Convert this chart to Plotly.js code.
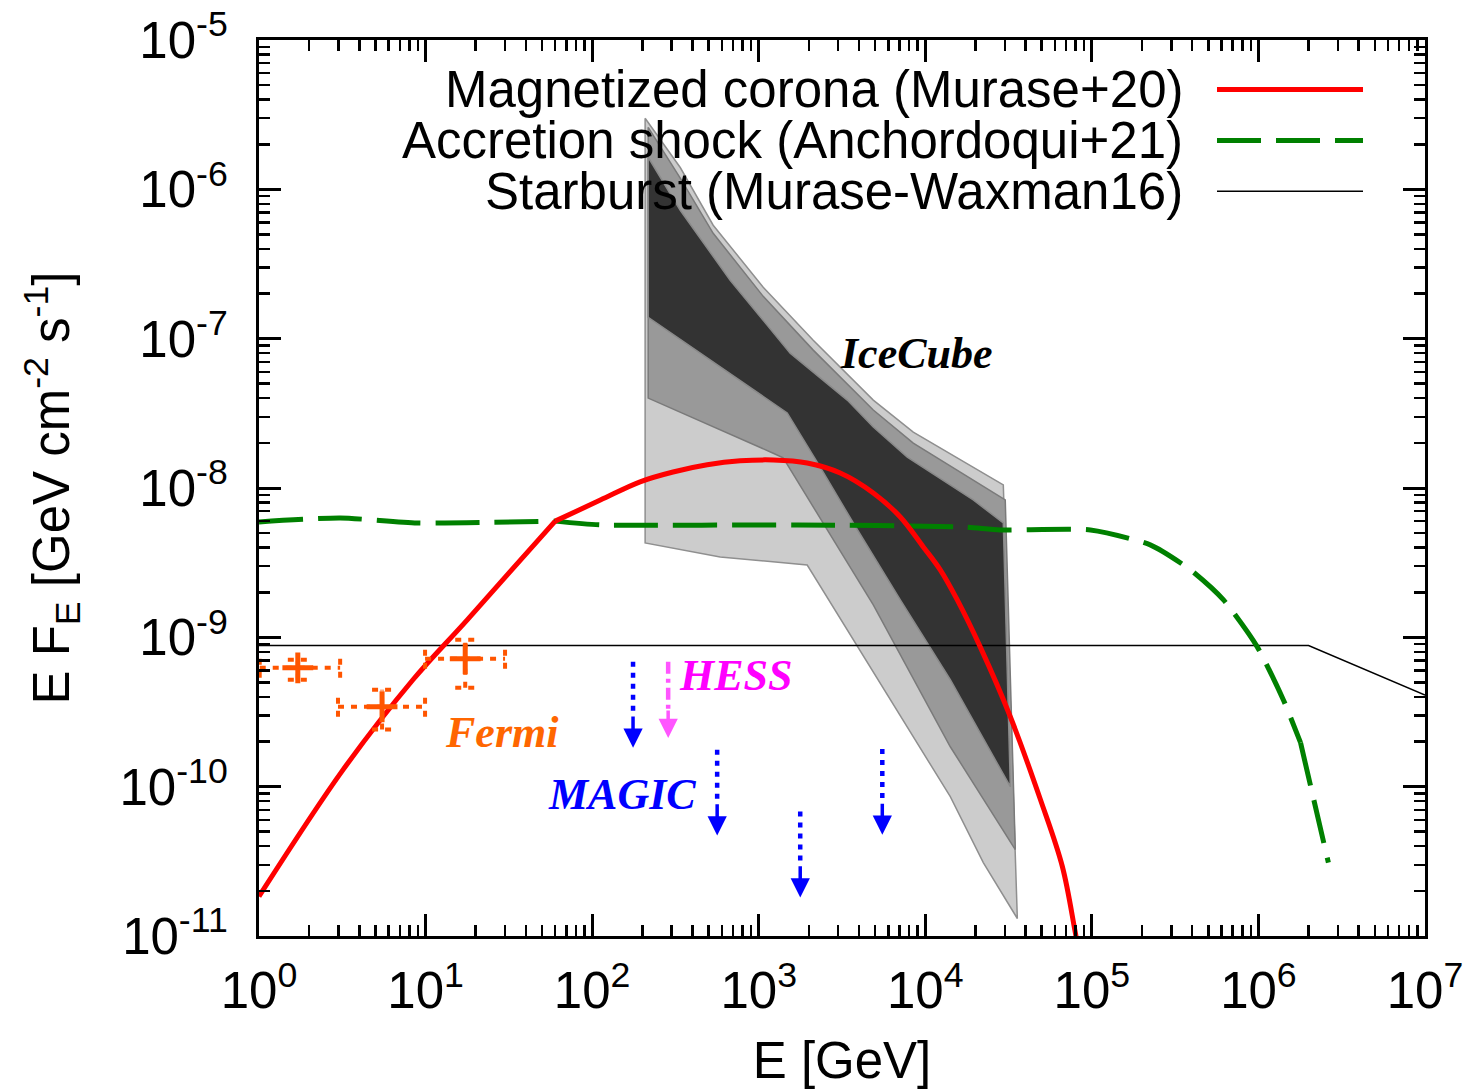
<!DOCTYPE html>
<html>
<head>
<meta charset="utf-8">
<script src="https://cdn.plot.ly/plotly-3.0.1.min.js"></script>
<style>
html,body{margin:0;padding:0;background:#fff;}
#chart{width:1466px;height:1089px;}
</style>
</head>
<body>
<div id="chart"></div>
<script>
// ---------------- data ----------------
// Magnetized corona (Murase+20)
const E_corona = [1, 3.2, 8.4, 17.8, 60, 112, 194, 306, 491, 774, 1222, 1955, 3085, 4873, 7080, 9730, 12300, 15560, 21400, 32400, 49100, 66500, 79600, 85300];
const F_corona = [1.84e-11, 1.30e-10, 5.2e-10, 1.31e-9, 6.0e-9, 8.3e-9, 1.10e-8, 1.28e-8, 1.43e-8, 1.52e-8, 1.54e-8, 1.47e-8, 1.26e-8, 9.27e-9, 6.4e-9, 4.03e-9, 2.83e-9, 1.78e-9, 8.6e-10, 2.94e-10, 8.2e-11, 2.92e-11, 1.05e-11, 6.97e-12];

// Accretion shock (Anchordoqui+21)
const E_shock = [1, 3.07, 8.9, 60, 112, 1700, 16900, 28200, 98000, 224000, 391000, 617000, 986000, 1.41e6, 1.79e6, 2.63e6];
const F_shock = [5.93e-9, 6.3e-9, 5.83e-9, 6.0e-9, 5.66e-9, 5.66e-9, 5.48e-9, 5.24e-9, 5.24e-9, 4.16e-9, 2.83e-9, 1.78e-9, 8.6e-10, 3.82e-10, 1.97e-10, 3.1e-11];

// Starburst (Murase-Waxman16)
const E_starburst = [1, 2e6, 1e7];
const F_starburst = [8.8e-10, 8.8e-10, 4.1e-10];

// IceCube bands (upper / lower edges)
const E_light_hi = [208, 338, 533, 1064, 2125, 4873, 8470, 15560, 29400];
const F_light_hi = [2.99e-6, 1.40e-6, 5.75e-7, 2.21e-7, 9.77e-8, 3.88e-8, 2.37e-8, 1.59e-8, 1.05e-8];
const E_light_lo = [208, 587, 1955, 7080, 14130, 22300, 35700];
const F_light_lo = [4.29e-9, 3.45e-9, 3.05e-9, 2.99e-10, 8.57e-11, 3.10e-11, 1.31e-11];

const E_med_hi = [217, 338, 533, 1064, 2125, 4873, 8470, 15560, 30200];
const F_med_hi = [2.60e-6, 1.19e-6, 5.08e-7, 1.92e-7, 8.38e-8, 3.33e-8, 2.0e-8, 1.32e-8, 8.32e-9];
const E_med_lo = [217, 1222, 1403, 4873, 14130, 34700];
const F_med_lo = [4.0e-8, 1.71e-8, 1.59e-8, 1.65e-9, 1.85e-10, 3.79e-11];

const E_dark_hi = [217, 338, 674, 1545, 3400, 4873, 7800, 19410, 29400];
const F_dark_hi = [1.64e-6, 7.24e-7, 2.46e-7, 8.0e-8, 3.88e-8, 2.56e-8, 1.61e-8, 8.32e-9, 5.83e-9];
const E_dark_lo = [217, 1483, 2340, 3697, 7080, 14130, 32400];
const F_dark_lo = [1.39e-7, 3.18e-8, 1.38e-8, 5.83e-9, 1.78e-9, 5.2e-10, 1.0e-10];

// Fermi points with error ranges
const E_fermi = [1.71, 5.48, 17.3];
const E_fermi_lo = [1.01, 2.98, 9.93];
const E_fermi_hi = [3.07, 9.93, 30.0];
const F_fermi = [6.25e-10, 3.43e-10, 7.18e-10];
const F_fermi_lo = [5.2e-10, 2.41e-10, 4.59e-10];
const F_fermi_hi = [7.07e-10, 4.46e-10, 9.62e-10];

// Upper limits
const E_magic = [176, 563, 1775, 5520];
const F_magic = [6.85e-10, 1.77e-10, 6.81e-11, 1.79e-10];
const E_hess = [286];
const F_hess = [6.85e-10];

// tick labels
const xTickVals = [1, 10, 100, 1e3, 1e4, 1e5, 1e6, 1e7];
const xTickText = ['10<sup>0</sup>', '10<sup>1</sup>', '10<sup>2</sup>', '10<sup>3</sup>', '10<sup>4</sup>', '10<sup>5</sup>', '10<sup>6</sup>', '10<sup>7</sup>'];
const yTickVals = [1e-11, 1e-10, 1e-9, 1e-8, 1e-7, 1e-6, 1e-5];
const yTickText = ['10<sup>-11</sup>', '10<sup>-10</sup>', '10<sup>-9</sup>', '10<sup>-8</sup>', '10<sup>-7</sup>', '10<sup>-6</sup>', '10<sup>-5</sup>'];

const legendNames = ['Magnetized corona (Murase+20)', 'Accretion shock (Anchordoqui+21)', 'Starburst (Murase-Waxman16)'];

// ---------------- build ----------------
function minorTicks(lo, hi) {
  const v = [];
  for (let p = lo; p < hi; p++) for (let d = 2; d <= 9; d++) v.push(d * Math.pow(10, p));
  return v;
}
function band(Ehi, Fhi, Elo, Flo) {
  return {
    x: Ehi.concat(Elo.slice().reverse()).concat([Ehi[0]]),
    y: Fhi.concat(Flo.slice().reverse()).concat([Fhi[0]])
  };
}
const traces = [];
const bands = [
  [band(E_light_hi, F_light_hi, E_light_lo, F_light_lo), '#cccccc', '#8f8f8f'],
  [band(E_med_hi, F_med_hi, E_med_lo, F_med_lo), '#999999', '#7a7a7a'],
  [band(E_dark_hi, F_dark_hi, E_dark_lo, F_dark_lo), '#333333', '#8a8a8a']
];
bands.forEach(b => traces.push({
  x: b[0].x, y: b[0].y, type: 'scatter', mode: 'lines', fill: 'toself',
  fillcolor: b[1], line: {color: b[2], width: 1.5}, showlegend: false, hoverinfo: 'skip'
}));

// split a series into pieces at given indices (kinks stay sharp, pieces are smoothed)
function pieces(E, F, cuts) {
  const out = [];
  const idx = [0].concat(cuts).concat([E.length - 1]);
  for (let k = 0; k < idx.length - 1; k++) {
    out.push({x: E.slice(idx[k], idx[k + 1] + 1), y: F.slice(idx[k], idx[k + 1] + 1)});
  }
  return out;
}

// model curves
traces.push({x: E_starburst, y: F_starburst, type: 'scatter', mode: 'lines', name: legendNames[2],
  line: {color: '#000000', width: 1.5}, showlegend: false});
pieces(E_shock, F_shock, [3, 14]).forEach(p => traces.push({x: p.x, y: p.y, type: 'scatter', mode: 'lines',
  name: legendNames[1], line: {color: '#008000', width: 5, dash: '44px,15px', shape: 'spline', smoothing: 0.6},
  showlegend: false}));
pieces(E_corona, F_corona, [4]).forEach(p => traces.push({x: p.x, y: p.y, type: 'scatter', mode: 'lines',
  name: legendNames[0], line: {color: '#ff0000', width: 5, shape: 'spline', smoothing: 1.0},
  showlegend: false}));

// Fermi error bars (dotted) + caps
const capX = Math.pow(10, 0.06), capY = Math.pow(10, 0.067);
const fx = [], fy = [];
for (let i = 0; i < E_fermi.length; i++) {
  fx.push(E_fermi_lo[i], E_fermi_hi[i], null); fy.push(F_fermi[i], F_fermi[i], null);
  fx.push(E_fermi[i], E_fermi[i], null); fy.push(F_fermi_lo[i], F_fermi_hi[i], null);
  fx.push(E_fermi_lo[i], E_fermi_lo[i], null); fy.push(F_fermi[i] / capY, F_fermi[i] * capY, null);
  fx.push(E_fermi_hi[i], E_fermi_hi[i], null); fy.push(F_fermi[i] / capY, F_fermi[i] * capY, null);
  fx.push(E_fermi[i] / capX, E_fermi[i] * capX, null); fy.push(F_fermi_lo[i], F_fermi_lo[i], null);
  fx.push(E_fermi[i] / capX, E_fermi[i] * capX, null); fy.push(F_fermi_hi[i], F_fermi_hi[i], null);
}
traces.push({x: fx, y: fy, type: 'scatter', mode: 'lines', connectgaps: false,
  line: {color: '#ff5500', width: 4, dash: '6px,7px'}, showlegend: false, hoverinfo: 'skip'});
traces.push({x: E_fermi, y: F_fermi, type: 'scatter', mode: 'markers',
  marker: {symbol: 'cross-thin', size: 22, line: {color: '#ff5500', width: 5}}, showlegend: false});

// upper limits (dotted shafts + narrow arrow heads)
const ulHeads = [];
function ulTraces(E, F, color, dash, len) {
  const sx = [], sy = [];
  for (let i = 0; i < E.length; i++) {
    sx.push(E[i], E[i], null); sy.push(F[i], F[i] / Math.pow(10, len * 0.62), null);
    ulHeads.push({x: Math.log10(E[i]), y: Math.log10(F[i]) - len, ax: Math.log10(E[i]), ay: Math.log10(F[i]) - len * 0.62, color: color});
  }
  traces.push({x: sx, y: sy, type: 'scatter', mode: 'lines', line: {color: color, width: 4.5, dash: dash},
    showlegend: false, hoverinfo: 'skip'});
}
ulTraces(E_magic, F_magic, '#0000ff', '5px,6px', 0.575);
ulTraces(E_hess, F_hess, '#ff55ff', '12px,5px,4px,5px', 0.51);

// ---------------- layout ----------------
const L = 259, T = 39.5, W = 1166, H = 897;
const px = x => (x - L) / W;
const py = y => (T + H - y) / H;
const sans = 'Liberation Sans, Arial, Helvetica, sans-serif';
const serif = 'Liberation Serif, Times New Roman, serif';
const FS = 51;

const legendRows = [89, 140, 191];
const legendStyles = [
  {color: '#ff0000', width: 5},
  {color: '#008000', width: 5, dash: '44px,15px'},
  {color: '#000000', width: 1.5}
];
const shapes = legendRows.map((r, i) => ({
  type: 'line', xref: 'paper', yref: 'paper', x0: px(1217), x1: px(1363), y0: py(r), y1: py(r),
  line: legendStyles[i]
}));
const annotations = legendRows.map((r, i) => ({
  xref: 'paper', yref: 'paper', x: px(1185), y: py(r), xanchor: 'right', yanchor: 'middle',
  text: legendNames[i], showarrow: false, font: {family: sans, size: FS, color: '#000'}
}));
function label(text, cx, cy, color) {
  annotations.push({xref: 'paper', yref: 'paper', x: px(cx), y: py(cy), xanchor: 'center', yanchor: 'middle',
    text: text, showarrow: false,
    font: {family: serif, size: 44, color: color, weight: 'bold', style: 'italic'}});
}
label('IceCube', 916, 353, '#000000');
label('Fermi', 502, 733, '#ff6600');
label('MAGIC', 622, 795, '#0000ff');
label('HESS', 736, 676, '#ff00ff');
ulHeads.forEach(h => annotations.push({
  xref: 'x', yref: 'y', axref: 'x', ayref: 'y', x: h.x, y: h.y, ax: h.ax, ay: h.ay,
  text: '', showarrow: true, arrowhead: 2, arrowsize: 1.1, arrowwidth: 3.5, arrowcolor: h.color, standoff: 0
}));

const axisCommon = {
  type: 'log', showgrid: false, zeroline: false, showline: true, linecolor: '#000', linewidth: 3,
  mirror: 'allticks', ticks: 'inside', ticklen: 22, tickwidth: 3, tickcolor: '#000',
  tickfont: {family: sans, size: FS, color: '#000'}, tickmode: 'array'
};
const layout = {
  width: 1466, height: 1089,
  margin: {l: L, r: 1466 - L - W, t: T, b: 1089 - T - H, pad: 0},
  paper_bgcolor: '#fff', plot_bgcolor: '#fff',
  showlegend: false, hovermode: false,
  xaxis: Object.assign({}, axisCommon, {
    range: [0, 7], tickvals: xTickVals, ticktext: xTickText, ticklabelstandoff: 8,
    minor: {tickmode: 'array', tickvals: minorTicks(0, 7), ticks: 'inside', ticklen: 11, tickwidth: 2.5, tickcolor: '#000'},
    title: {text: 'E [GeV]', font: {family: sans, size: FS, color: '#000'}, standoff: 26}
  }),
  yaxis: Object.assign({}, axisCommon, {
    range: [-11, -5], tickvals: yTickVals, ticktext: yTickText, ticklabelstandoff: 18,
    minor: {tickmode: 'array', tickvals: minorTicks(-11, -5), ticks: 'inside', ticklen: 11, tickwidth: 2.5, tickcolor: '#000'},
    title: {text: 'E F<sub>E</sub> [GeV cm<sup>-2</sup> s<sup>-1</sup>]', font: {family: sans, size: FS, color: '#000'}, standoff: 34}
  }),
  shapes: shapes,
  annotations: annotations
};
Plotly.newPlot('chart', traces, layout, {displayModeBar: false, staticPlot: true});
</script>
</body>
</html>
